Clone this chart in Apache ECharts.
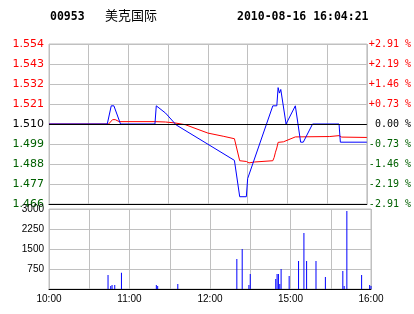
<!DOCTYPE html>
<html>
<head>
<meta charset="utf-8">
<script src="https://cdn.jsdelivr.net/npm/echarts@6/dist/echarts.min.js"></script>
<style>
  html, body { margin: 0; padding: 0; background: #fff; }
  #chart { width: 414px; height: 314px; }
</style>
</head>
<body>
<div id="chart"></div>
<script>
// 分时数据 (分钟序号: 0 = 10:00, 240 = 16:00)
var prevClose = 1.51;

var tickMinutes = [0, 60, 120, 180, 240];
var tickLabels = ['10:00', '11:00', '12:00', '15:00', '16:00'];

// 成交价
var priceMin = [0, 44, 47, 49, 54, 80, 81, 88, 96, 140, 144, 149, 150, 169, 172, 173, 174, 175, 179, 186, 190, 192, 199, 219, 220, 240];
var priceVal = [1.51, 1.51, 1.52, 1.52, 1.51, 1.51, 1.52, 1.516, 1.5095, 1.49, 1.47, 1.47, 1.48, 1.52, 1.52, 1.53, 1.527, 1.529, 1.51, 1.52, 1.50, 1.50, 1.51, 1.51, 1.50, 1.50];

// 均价
var avgMin = [0, 45, 48, 50, 53, 80, 81, 88, 95, 103, 120, 132, 140, 144, 149, 151, 155, 169, 170, 171, 172, 173, 177, 186, 212, 213, 219, 221, 240];
var avgVal = [1.51, 1.51, 1.5124, 1.5124, 1.5113, 1.5113, 1.5118, 1.5111, 1.5106, 1.5096, 1.505, 1.5032, 1.5019, 1.4898, 1.4894, 1.4886, 1.4891, 1.4898, 1.4916, 1.4945, 1.4968, 1.4999, 1.5002, 1.5029, 1.5031, 1.5036, 1.5036, 1.5028, 1.5026];

// 成交量
var volMin = [44, 46, 47, 49, 54, 80, 81, 96, 140, 144, 149, 150, 169, 170, 171, 172, 173, 179, 186, 190, 192, 199, 206, 219, 220, 222, 233, 239, 240];
var volVal = [525, 110, 150, 150, 610, 150, 110, 190, 1125, 1500, 150, 560, 375, 560, 560, 190, 750, 490, 1050, 2100, 1050, 1050, 450, 675, 110, 2925, 525, 150, 110];

function pairs(xs, ys) {
    var out = [];
    for (var i = 0; i < xs.length; i++) {
        out.push([xs[i], ys[i]]);
    }
    return out;
}

var gridColor = '#c0c0c0';
var upColor = '#ff0000';
var downColor = '#006000';

function priceColor(v) {
    if (Math.abs(v - prevClose) < 0.0005) return '#000';
    return v > prevClose ? upColor : downColor;
}

var chart = echarts.init(document.getElementById('chart'));

var option = {
    backgroundColor: '#fff',
    animation: false,
    graphic: [
        { type: 'text', left: 50, top: 11, style: { text: '00953', font: 'bold 11.5px "DejaVu Sans Mono"', fill: '#000' } },
        { type: 'text', left: 105, top: 9, style: { text: '美克国际', font: '13px "Noto Sans CJK SC"', fill: '#000' } },
        { type: 'text', left: 237, top: 11, style: { text: '2010-08-16 16:04:21', font: 'bold 11.5px "DejaVu Sans Mono"', fill: '#000' } }
    ],
    grid: [
        { left: 49, top: 44, width: 322, height: 160, show: true, borderColor: gridColor, borderWidth: 1 },
        { left: 49, top: 209, width: 322, height: 80, show: true, borderColor: gridColor, borderWidth: 1 }
    ],
    xAxis: [
        {
            gridIndex: 0, type: 'value', min: 0, max: 240, interval: 30,
            axisLine: { lineStyle: { color: '#000', width: 1 } },
            axisTick: { show: false },
            axisLabel: { show: false },
            splitLine: { lineStyle: { color: gridColor } }
        },
        {
            gridIndex: 1, type: 'value', min: 0, max: 240, interval: 30,
            axisLine: { lineStyle: { color: '#000', width: 1 } },
            axisTick: { show: false },
            axisLabel: {
                color: '#000', fontFamily: 'Liberation Sans', fontSize: 10, margin: 5,
                formatter: function (v) {
                    var i = tickMinutes.indexOf(v);
                    return i >= 0 ? tickLabels[i] : '';
                }
            },
            splitLine: { lineStyle: { color: gridColor } }
        }
    ],
    yAxis: [
        {
            gridIndex: 0, type: 'value', min: 1.466, max: 1.554, interval: 0.011,
            axisLine: { show: false },
            axisTick: { show: false },
            axisLabel: {
                fontFamily: 'DejaVu Sans', fontSize: 11, margin: 5,
                formatter: function (v) { return v.toFixed(3); },
                color: function (v) { return priceColor(Number(v)); }
            },
            splitLine: { lineStyle: { color: gridColor } }
        },
        {
            gridIndex: 0, type: 'value', min: 1.466, max: 1.554, interval: 0.011, position: 'right',
            axisLine: { show: false },
            axisTick: { show: false },
            axisLabel: {
                fontFamily: 'DejaVu Sans Mono', fontSize: 10, margin: 2,
                formatter: function (v) {
                    var p = (v - prevClose) / prevClose * 100;
                    if (Math.abs(p) < 0.005) return ' 0.00 %';
                    return (p > 0 ? '+' : '-') + Math.abs(p).toFixed(2) + ' %';
                },
                color: function (v) { return priceColor(Number(v)); }
            },
            splitLine: { show: false }
        },
        {
            gridIndex: 1, type: 'value', min: 0, max: 3000, interval: 750,
            axisLine: { show: false },
            axisTick: { show: false },
            axisLabel: {
                color: '#000', fontFamily: 'Liberation Sans', fontSize: 10, margin: 5,
                formatter: function (v) { return v === 0 ? '' : String(v); }
            },
            splitLine: { lineStyle: { color: gridColor } }
        }
    ],
    series: [
        {
            // 昨收线
            type: 'line', xAxisIndex: 0, yAxisIndex: 0, data: [], z: 1, silent: true,
            markLine: {
                symbol: 'none', silent: true, label: { show: false },
                lineStyle: { color: '#000', type: 'solid', width: 1 },
                data: [{ yAxis: prevClose }]
            }
        },
        {
            name: '均价', type: 'line', xAxisIndex: 0, yAxisIndex: 0,
            data: pairs(avgMin, avgVal), showSymbol: false, z: 3,
            lineStyle: { color: '#ff0000', width: 1 }
        },
        {
            name: '成交价', type: 'line', xAxisIndex: 0, yAxisIndex: 0,
            data: pairs(priceMin, priceVal), showSymbol: false, z: 4,
            lineStyle: { color: '#0000ff', width: 1 }
        },
        {
            name: '成交量', type: 'bar', xAxisIndex: 1, yAxisIndex: 2,
            data: pairs(volMin, volVal), barWidth: 1,
            itemStyle: { color: '#0000ff' }
        }
    ]
};

chart.setOption(option);
</script>
</body>
</html>
